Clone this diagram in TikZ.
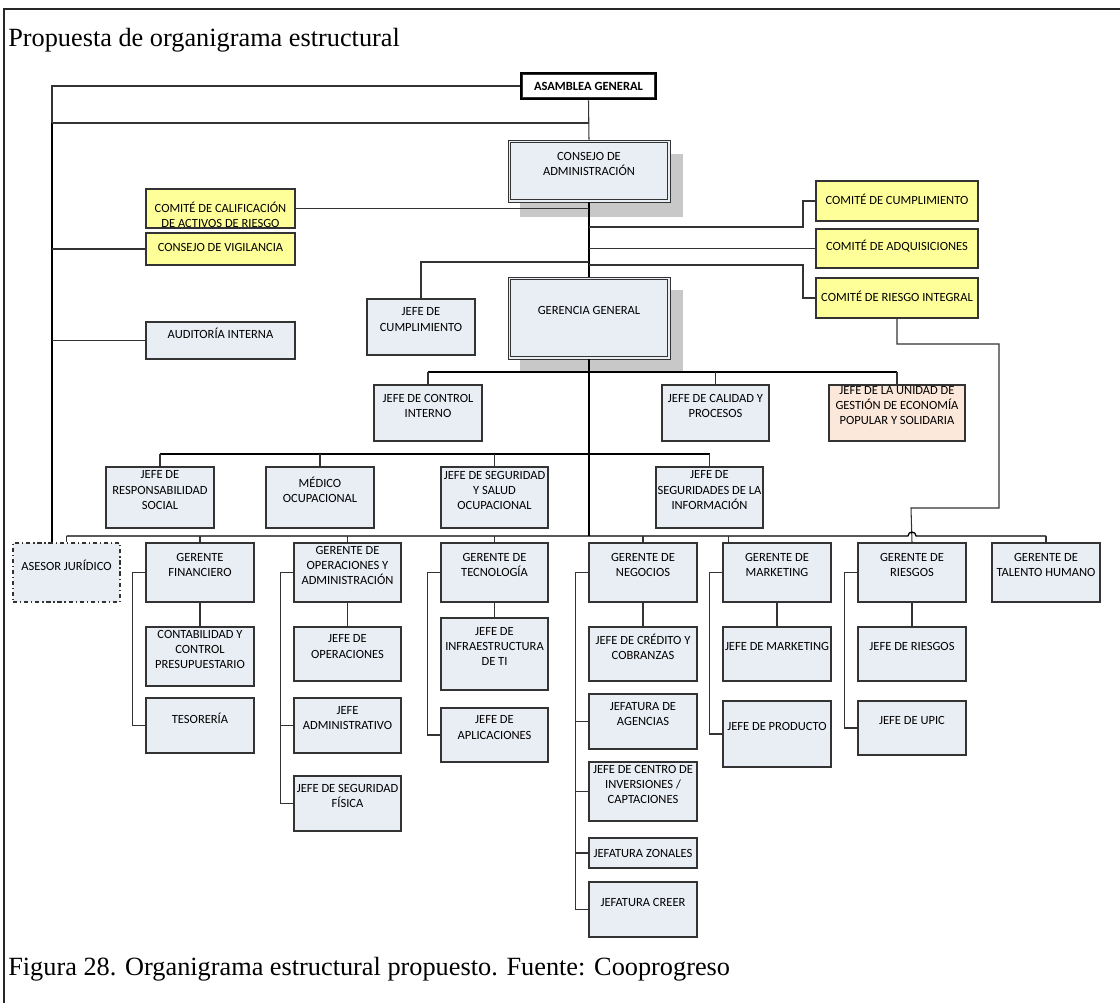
\documentclass[tikz,border=0pt]{standalone}
\usepackage{fontspec}
\setmainfont{Liberation Serif}
\newfontfamily\orgfont{Carlito}
\usepackage{tikz}
\usetikzlibrary{calc,fit}
\definecolor{boxfill}{HTML}{E9EDF4}
\definecolor{yel}{HTML}{FFFF99}
\definecolor{peach}{HTML}{FCE8DA}
\definecolor{shadowgray}{HTML}{C8C8C8}
\definecolor{edge}{HTML}{333333}
\tikzset{
  orgbox/.style={draw=edge, line width=0.9pt, fill=boxfill, inner sep=0pt},
  comitebox/.style={orgbox, fill=yel},
  epsbox/.style={orgbox, fill=peach},
  asesorbox/.style={orgbox, dash dot},
  boxtxt/.style={font=\orgfont\fontsize{8.9}{10.7}\selectfont, align=center, inner sep=0pt, text=black},
  conn/.style={draw=edge, line width=0.75pt},
  spine/.style={draw=black, line width=1.4pt},
  bus/.style={draw=black, line width=0.9pt},
  framerule/.style={draw=black!85, line width=0.9pt},
  titletxt/.style={anchor=base west, inner sep=0pt, font=\fontsize{18.7}{22}\selectfont},
}

\begin{document}
\begin{tikzpicture}[x=0.025cm, y=-0.025cm]
  \useasboundingbox (0,0) rectangle (1120,1003);
  \draw[framerule] (1120,9) -- (4,9) -- (4,1003);
  \node[titletxt] (titulo) at (8,47) {Propuesta de organigrama estructural};
  \node[titletxt] (pie) at (8,975) {Figura 28. Organigrama estructural propuesto. Fuente: Cooprogreso};

  % sombras
  \fill[shadowgray] (520,154) rectangle (683,217);
  \fill[shadowgray] (520,290) rectangle (683,372);

  % direccion
  \node[orgbox, fill=white, draw=black, line width=1.8pt, fit={(521,73) (656,99)},
    label={[boxtxt, font=\orgfont\bfseries\fontsize{8.9}{10.7}\selectfont]center:ASAMBLEA GENERAL}] (asam) {};
  \draw[edge, line width=0.5pt] ($(asam.north west)+(3,3)$) rectangle ($(asam.south east)+(-3,-3)$);
  \foreach \N/\Xa/\Ya/\Xb/\Yb/\Txt in {
      cons/508/140/670/202/{CONSEJO DE\\ADMINISTRACIÓN},
      geren/508/277/670/359/{GERENCIA GENERAL}}{
    \node[orgbox, line width=0.6pt, fit={(\Xa,\Ya) (\Xb,\Yb)},
      label={[boxtxt, yshift=5.3pt]center:\Txt}] (\N) {};
    \draw[edge, line width=1.3pt] ($(\N.north west)+(3,3)$) rectangle ($(\N.south east)+(-3,-3)$);
  }

  % comites
  \foreach \N/\Xa/\Ya/\Xb/\Yb/\Txt in {
      vigil/146/233/295/265/{CONSEJO DE VIGILANCIA},
      ccump/816/181/978/221/{COMITÉ DE CUMPLIMIENTO},
      cadq/816/229/978/268/{COMITÉ DE ADQUISICIONES},
      criesgo/816/278/978/318/{COMITÉ DE RIESGO INTEGRAL}}
    \node[comitebox, fit={(\Xa,\Ya) (\Xb,\Yb)},
      label={[boxtxt, yshift=1.4pt]center:\Txt}] (\N) {};
  \node[comitebox, fit={(146,189) (295,228)},
    label={[boxtxt, yshift=-4.3pt]center:{COMITÉ DE CALIFICACIÓN\\DE ACTIVOS DE RIESGO}}] (calif) {};

  % unidades
  \foreach \N/\Xa/\Ya/\Xb/\Yb/\Txt in {
      audit/146/322/295/359/{AUDITORÍA INTERNA},
      cumpl/367/299/475/355/{JEFE DE\\CUMPLIMIENTO},
      control/374/385/482/441/{JEFE DE CONTROL\\INTERNO},
      calidad/662/385/769/441/{JEFE DE CALIDAD Y\\PROCESOS},
      resp/106/467/214/528/{JEFE DE\\RESPONSABILIDAD\\SOCIAL},
      medico/266/467/374/528/{MÉDICO\\OCUPACIONAL},
      segsal/441/467/548/528/{JEFE DE SEGURIDAD\\Y SALUD\\OCUPACIONAL},
      seginf/656/467/763/528/{JEFE DE\\SEGURIDADES DE LA\\INFORMACIÓN},
      fin/146/543/254/602/{GERENTE\\FINANCIERO},
      oper/294/543/401/602/{GERENTE DE\\OPERACIONES Y\\ADMINISTRACIÓN},
      tec/441/543/548/602/{GERENTE DE\\TECNOLOGÍA},
      neg/589/543/697/602/{GERENTE DE\\NEGOCIOS},
      mark/723/543/831/602/{GERENTE DE\\MARKETING},
      ries/858/543/966/602/{GERENTE DE\\RIESGOS},
      tal/992/543/1100/602/{GERENTE DE\\TALENTO HUMANO},
      conta/146/627/254/686/{CONTABILIDAD Y\\CONTROL\\PRESUPUESTARIO},
      teso/146/698/254/753/{TESORERÍA},
      jop/294/627/401/681/{JEFE DE\\OPERACIONES},
      jadm/294/698/401/753/{JEFE\\ADMINISTRATIVO},
      jsf/294/776/401/831/{JEFE DE SEGURIDAD\\FÍSICA},
      jinf/441/618/548/690/{JEFE DE\\INFRAESTRUCTURA\\DE TI},
      japl/441/708/548/762/{JEFE DE\\APLICACIONES},
      jcred/589/627/697/681/{JEFE DE CRÉDITO Y\\COBRANZAS},
      jag/589/694/697/749/{JEFATURA DE\\AGENCIAS},
      jcen/589/762/697/821/{JEFE DE CENTRO DE\\INVERSIONES /\\CAPTACIONES},
      jcreer/589/882/697/937/{JEFATURA CREER},
      jmark/723/627/831/681/{JEFE DE MARKETING},
      jprod/723/701/831/767/{JEFE DE PRODUCTO},
      jries/858/627/966/681/{JEFE DE RIESGOS},
      jupic/858/701/966/755/{JEFE DE UPIC}}
    \node[orgbox, fit={(\Xa,\Ya) (\Xb,\Yb)},
      label={[boxtxt, yshift=5.3pt]center:\Txt}] (\N) {};
  \node[orgbox, fit={(589,838) (697,868)},
    label={[boxtxt]center:JEFATURA ZONALES}] (jzon) {};
  \node[epsbox, fit={(829,385) (965,441)},
    label={[boxtxt, yshift=5.3pt]center:{JEFE DE LA UNIDAD DE\\GESTIÓN DE ECONOMÍA\\POPULAR Y SOLIDARIA}}] (unidad) {};
  \node[asesorbox, fit={(13,543) (120,602)},
    label={[boxtxt, yshift=5.3pt]center:ASESOR JURÍDICO}] (asesor) {};

  % lineas de mando
  \coordinate (lft) at (52,123);
  \coordinate (b1) at (589,372);
  \coordinate (b2) at (589,454);
  \coordinate (b3) at (589,536);
  \draw[conn] (asam.west) -| (lft);
  \draw[spine, line width=1.1pt] (lft) -- (lft |- asesor.north);
  \draw[conn] (lft) -- (lft -| asam.south);
  \draw[conn] (asam.south) -- (cons.north);
  \draw[spine, line width=1pt] (cons.south) -- (geren.north);
  \draw[conn] (calif.east) -- (calif.east -| cons.south);
  \draw[conn] (lft |- vigil.west) -- (vigil.west);
  \draw[conn] (lft |- audit.west) -- (audit.west);
  \draw[conn] (589,227) -- (803,227) |- (ccump.west);
  \draw[conn] (cons.south |- cadq.west) -- (cadq.west);
  \draw[conn] (589,265) -- (803,265) |- (criesgo.west);
  \draw[conn] (589,262) -| (cumpl.north);
  \draw[conn] (criesgo.south) |- (999,344) |- (911,508) -- (ries.north);

  \draw[spine] (geren.south) -- (b3);
  \draw[bus] (control.north |- b1) -- (unidad.north |- b1);
  \foreach \N in {control,calidad,unidad}
    \draw[conn] (\N.north |- b1) -- (\N.north);
  \draw[bus] (resp.north |- b2) -- (seginf.north |- b2);
  \foreach \N in {resp,medico,segsal,seginf}
    \draw[conn] (\N.north |- b2) -- (\N.north);
  \draw[bus] (asesor.north |- b3) -- ($(ries.north |- b3)+(-4,0)$) arc (180:0:0.1cm) -- (tal.north |- b3);
  \foreach \N in {asesor,fin,oper,tec,neg,tal}
    \draw[conn] (\N.north |- b3) -- (\N.north);
  \draw[conn] ($(mark.north west |- b3)+(6,0)$) -- ($(mark.north west)+(6,0)$);

  % dependencias
  \foreach \P/\C in {fin/conta,oper/jop,tec/jinf,neg/jcred,mark/jmark,ries/jries}
    \draw[conn] (\P.south) -- (\C.north);
  \foreach \P/\C in {fin/teso,oper/jadm,oper/jsf,tec/japl,neg/jag,neg/jcen,neg/jzon,neg/jcreer,mark/jprod,ries/jupic}
    \draw[conn] (\P.west) -- ++(-13,0) |- (\C.west);
\end{tikzpicture}
\end{document}
